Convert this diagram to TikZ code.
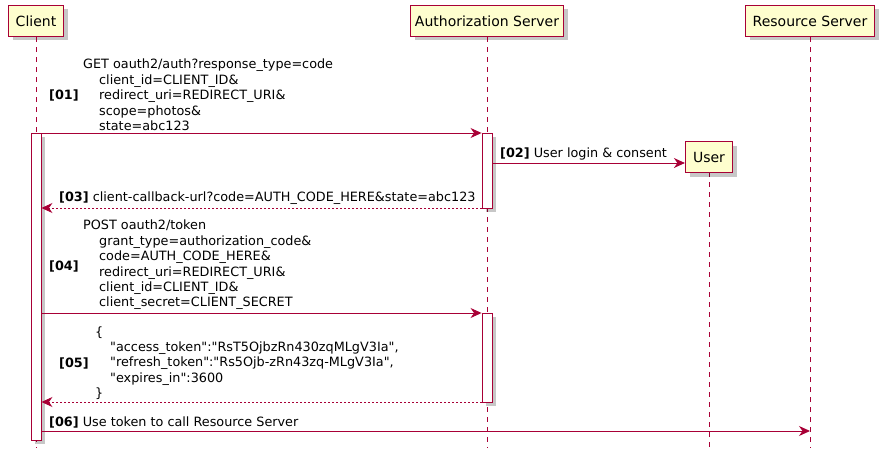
\documentclass[tikz,border=0pt]{standalone}
\usepackage{fontspec}
\setmainfont{DejaVu Sans}[Ligatures=TeXOff]
\usetikzlibrary{arrows.meta,shadows}
\definecolor{pb}{HTML}{A80036}
\definecolor{pf}{HTML}{FEFECE}
\begin{document}
\begin{tikzpicture}[x=1pt,y=-1pt,
  shad/.style={drop shadow={shadow xshift=4pt,shadow yshift=-4pt,fill=black,opacity=0.22}},
  part/.style={draw=pb, line width=1.2pt, fill=pf, inner sep=0pt, shad, font=\fontsize{14}{16}\selectfont},
  life/.style={draw=pb, line width=0.8pt, dash pattern=on 5pt off 5pt},
  act/.style={draw=pb, line width=0.9pt, fill=white, inner sep=0pt, minimum width=10pt, shad},
  msg/.style={draw=pb, line width=0.9pt, -{Stealth[length=11pt,width=10pt,inset=3.5pt]}},
  ret/.style={msg, dash pattern=on 2pt off 2pt},
  lbl/.style={font=\fontsize{12.8}{15.4}\selectfont\bfseries, inner sep=0pt, anchor=west},
  txt/.style={font=\fontsize{12.8}{15.4}\selectfont, inner sep=0pt, anchor=west, align=left}
]
\useasboundingbox (0,0) rectangle (883,460);

% participants
\node[part, minimum width=55pt, minimum height=31pt] (client) at (36,21) {Client};
\node[part, minimum width=153pt, minimum height=31pt] (auth) at (487,21) {Authorization Server};
\node[part, minimum width=129pt, minimum height=31pt] (rs) at (810,21) {Resource Server};

% lifeline ends
\coordinate (cend) at (36,448);
\coordinate (aend) at (487,448);
\coordinate (rend) at (810,448);
\coordinate (uend) at (709,448);

\draw[life] (client.south) -- (cend);
\draw[life] (auth.south) -- (aend);
\draw[life] (rs.south) -- (rend);
\draw[life] (709,172) coordinate (ustart) -- (uend);

% activation bars
\node[act, minimum height=307pt] (cact) at (36,286.5) {};
\node[act, minimum height=75pt] (aact1) at (487,170.5) {};
\node[act, minimum height=89pt] (aact2) at (487,357.5) {};

% user (created)
\node[part, minimum width=47pt, minimum height=31pt] (user) at (709,157) {User};

% message rows
\coordinate (y1) at (0,133);
\coordinate (y2) at (0,163);
\coordinate (y3) at (0,208);
\coordinate (y4) at (0,313);
\coordinate (y5) at (0,402);
\coordinate (y6) at (0,431);

\draw[msg] (cact.east |- y1) -- (aact1.west |- y1);
\draw[msg] (aact1.east |- y2) -- (user.west |- y2);
\draw[ret] (aact1.west |- y3) -- (cact.east |- y3);
\draw[msg] (cact.east |- y4) -- (aact2.west |- y4);
\draw[ret] (aact2.west |- y5) -- (cact.east |- y5);
\draw[msg] (cact.east |- y6) -- (rend |- y6);

% labels
\node[lbl] (l1) at (49,95) {[01]};
\node[txt] (t1) at (83,95) {GET oauth2/auth?response\_type=code\\
\hspace*{16pt}client\_id=CLIENT\_ID\&\\
\hspace*{16pt}redirect\_uri=REDIRECT\_URI\&\\
\hspace*{16pt}scope=photos\&\\
\hspace*{16pt}state=abc123};

\node[txt] (t2) at (500,154) {\textbf{[02]} User login \& consent};
\node[txt] (t3) at (59,198) {\textbf{[03]} client-callback-url?code=AUTH\_CODE\_HERE\&state=abc123};

\node[lbl] (l4) at (49,266) {[04]};
\node[txt] (t4) at (83,265) {POST oauth2/token\\
\hspace*{16pt}grant\_type=authorization\_code\&\\
\hspace*{16pt}code=AUTH\_CODE\_HERE\&\\
\hspace*{16pt}redirect\_uri=REDIRECT\_URI\&\\
\hspace*{16pt}client\_id=CLIENT\_ID\&\\
\hspace*{16pt}client\_secret=CLIENT\_SECRET};

\node[lbl] (l5) at (59,363) {[05]};
\node[txt] (t5) at (95,363) {\{\\
\hspace*{15pt}"access\_token":"RsT5OjbzRn430zqMLgV3Ia",\\
\hspace*{15pt}"refresh\_token":"Rs5Ojb-zRn43zq-MLgV3Ia",\\
\hspace*{15pt}"expires\_in":3600\\
\}};

\node[txt] (t6) at (49,422) {\textbf{[06]} Use token to call Resource Server};
\end{tikzpicture}
\end{document}
